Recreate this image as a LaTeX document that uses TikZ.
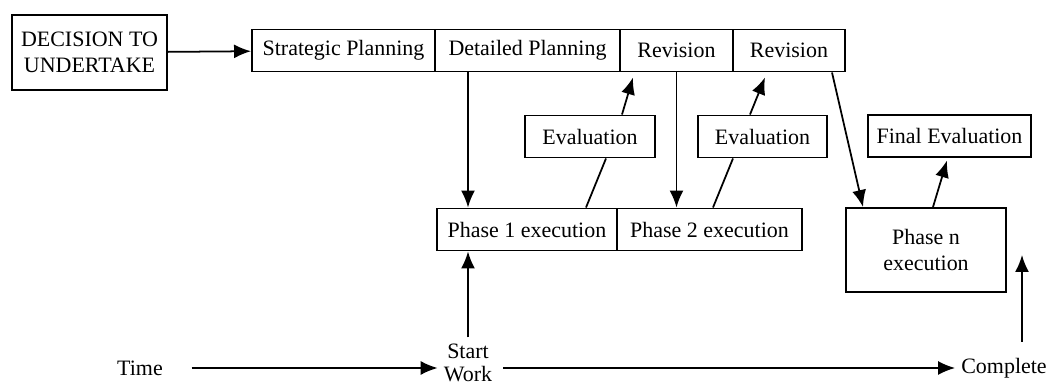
\documentclass[tikz,border=0pt]{standalone}
\usepackage{fontspec}
\setmainfont{Liberation Serif}
\usetikzlibrary{arrows.meta, shapes}

\tikzset{
  box/.style={draw, line width=1.1pt, inner sep=0pt, minimum height=0.84cm, font=\fontsize{12.5}{14.5}\selectfont},
  lbl/.style={align=center, font=\fontsize{12.5}{13}\selectfont},
  link/.style={line width=1pt, -{Latex[length=3.4mm,width=2.8mm]}},
  tie/.style={line width=1pt}
}

\begin{document}
\begin{tikzpicture}
\useasboundingbox (0,0) rectangle (20.98,7.8);

\node[box, align=center, minimum width=3.1cm, minimum height=1.5cm] (dec) at (1.79,6.75) {DECISION TO\\UNDERTAKE};

\node[box, minimum width=3.66cm] (sp)  at (6.87,6.79)  {Strategic Planning};
\node[box, minimum width=3.7cm]  (dp)  at (10.55,6.79) {Detailed Planning};
\node[box, minimum width=2.26cm] (rv1) at (13.53,6.79) {Revision};
\node[box, minimum width=2.24cm] (rv2) at (15.78,6.79) {Revision};

\node[box, minimum width=2.6cm]  (ev1) at (11.8,5.07)  {Evaluation};
\node[box, minimum width=2.58cm] (ev2) at (15.25,5.07) {Evaluation};
\node[box, minimum width=3.26cm] (fe)  at (18.99,5.08) {Final Evaluation};

\node[box, minimum width=3.6cm] (ph1) at (10.54,3.21) {Phase 1 execution};
\node[box, minimum width=3.7cm] (ph2) at (14.19,3.21) {Phase 2 execution};
\node[box, align=center, minimum width=3.2cm, minimum height=1.68cm] (phn) at (18.52,2.8) {Phase n\\execution};

\node[lbl] (time)     at (2.8,0.44)  {Time};
\node[lbl] (start)    at (9.36,0.55) {Start\\Work};
\node[lbl] (complete) at (20.08,0.44) {Complete};
\coordinate (done) at (20.44,2.7);

\draw[link] (dec) -- (sp);
\draw[link] (dp.south -| start) -- (ph1.north -| start);
\draw[link] (rv1.south) -- (rv1.south |- ph2.north);
\draw[tie]  ([xshift=1.18cm]ph1.north) -- ([xshift=0.32cm]ev1.south);
\draw[link] ([xshift=0.64cm]ev1.north) -- ([xshift=-0.87cm,yshift=-0.1cm]rv1.south);
\draw[tie]  ([xshift=0.07cm]ph2.north) -- ([xshift=-0.59cm]ev2.south);
\draw[link] ([xshift=-0.25cm]ev2.north) -- ([xshift=-0.48cm,yshift=-0.1cm]rv2.south);
\draw[link] ([xshift=0.86cm]rv2.south) -- ([xshift=-1.26cm]phn.north);
\draw[link] ([xshift=0.14cm]phn.north) -- ([xshift=-0.05cm,yshift=-0.05cm]fe.south);

\draw[link] ([xshift=0.45cm]time.east) -- (start.west |- time);
\draw[link] ([xshift=0.1cm]start.east |- time) -- (complete);
\draw[link] ([yshift=0.2cm]complete.north -| done) -- (done);
\draw[link] (start) -- (ph1.south -| start);
\end{tikzpicture}
\end{document}
